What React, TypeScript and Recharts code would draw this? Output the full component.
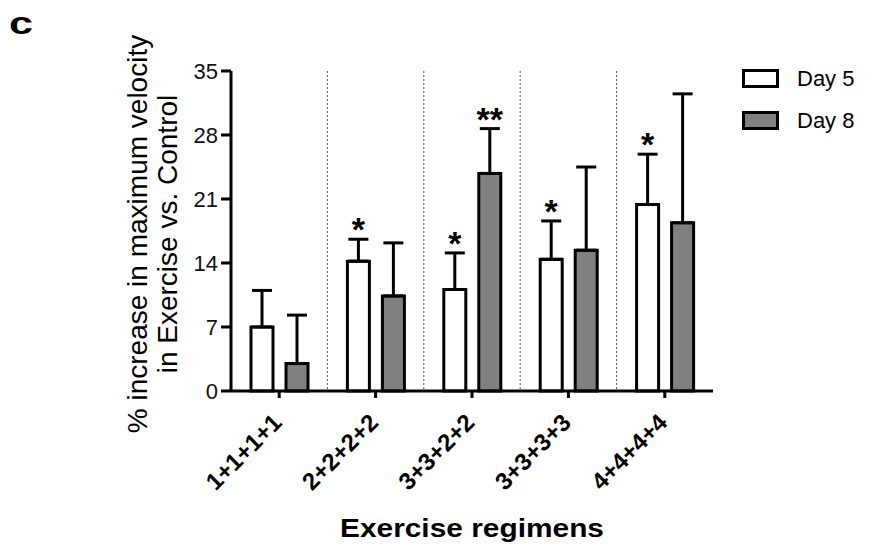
import { BarChart, Bar, XAxis, YAxis, CartesianGrid, ErrorBar, LabelList } from "recharts";

const FONT = '"Liberation Sans", Arial, Helvetica, sans-serif';

// values (% increase, mean and upper SEM)
const categories = ["1+1+1+1", "2+2+2+2", "3+3+2+2", "3+3+3+3", "4+4+4+4"];
const day5 = [7.0, 14.2, 11.1, 14.4, 20.4];
const day5Err = [4.0, 2.4, 4.0, 4.2, 5.5];
const day8 = [3.0, 10.4, 23.8, 15.4, 18.4];
const day8Err = [5.3, 5.8, 4.9, 9.1, 14.1];
const day5Sig = ["", "*", "*", "*", "*"];
const day8Sig = ["", "", "**", "", ""];
const yTicks = [0, 7, 14, 21, 28, 35];

const data = categories.map((name, i) => ({
  name,
  day5: day5[i],
  day8: day8[i],
  day5Err: [0, day5Err[i]],
  day8Err: [0, day8Err[i]],
  day5Sig: day5Sig[i],
  day8Sig: day8Sig[i],
}));

// dotted separators sit on the band edges between the groups
const separatorX = (props: any) => {
  const { xAxis, offset } = props;
  const scale = xAxis?.scale;
  if (typeof scale === "function" && typeof scale.bandwidth === "function") {
    return categories.slice(1).map((c) => scale(c));
  }
  const step = offset.width / categories.length;
  return categories.slice(1).map((_, i) => offset.left + step * (i + 1));
};

const starLabel = (values: number[], errs: number[]) => (props: any) => {
  const { x, y, width, height, value, index } = props;
  if (!value) return null;
  const pxPerUnit = height / values[index];
  const top = y - errs[index] * pxPerUnit;
  return (
    <text
      x={x + width / 2}
      y={top + 2}
      textAnchor="middle"
      fontFamily={FONT}
      fontSize={34}
      fontWeight="bold"
      fill="#000"
    >
      {value}
    </text>
  );
};

const XTick = (props: any) => {
  const { x, y, payload } = props;
  return (
    <text
      x={x + 4}
      y={y + 24}
      transform={`rotate(-45, ${x + 4}, ${y + 24})`}
      textAnchor="end"
      fontFamily={FONT}
      fontSize={24}
      fontWeight="bold"
      fill="#000"
    >
      {payload.value}
    </text>
  );
};

const YLabel = (props: any) => {
  const { viewBox } = props;
  const cy = viewBox.y + viewBox.height / 2 + 3;
  const x1 = 147;
  const x2 = 177;
  return (
    <g fontFamily={FONT} fontSize={28} fill="#000">
      <text x={x1} y={cy} textAnchor="middle" transform={`rotate(-90, ${x1}, ${cy})`}>
        % increase in maximum velocity
      </text>
      <text x={x2} y={cy} textAnchor="middle" transform={`rotate(-90, ${x2}, ${cy})`}>
        in Exercise vs. Control
      </text>
    </g>
  );
};

const XLabel = (props: any) => {
  const { viewBox } = props;
  return (
    <text
      x={viewBox.x + viewBox.width / 2}
      y={537}
      textAnchor="middle"
      fontFamily={FONT}
      fontSize={25}
      fontWeight="bold"
      fill="#000"
      textLength={264}
      lengthAdjust="spacingAndGlyphs"
    >
      Exercise regimens
    </text>
  );
};

const legendItems = [
  { label: "Day 5", fill: "#ffffff" },
  { label: "Day 8", fill: "#808080" },
];

export default function App() {
  return (
    <div style={{ position: "relative", width: 869, height: 546, fontFamily: FONT }}>
      <style>{"body{margin:0}"}</style>
      <div
        style={{
          position: "absolute",
          left: 9,
          top: 7,
          fontSize: 32,
          lineHeight: "32px",
          fontWeight: "bold",
          transform: "scaleX(1.35)",
          transformOrigin: "left top",
        }}
      >
        c
      </div>
      <div style={{ position: "absolute", left: 742, top: 69 }}>
        {legendItems.map((item, i) => (
          <div
            key={item.label}
            style={{ display: "flex", alignItems: "center", height: 19, marginTop: i ? 23 : 0 }}
          >
            <div
              style={{
                boxSizing: "border-box",
                width: 37,
                height: 19,
                border: "3px solid #000",
                background: item.fill,
              }}
            />
            <span style={{ marginLeft: 18, fontSize: 22, lineHeight: "19px", color: "#000" }}>
              {item.label}
            </span>
          </div>
        ))}
      </div>
      <BarChart
        width={869}
        height={546}
        data={data}
        margin={{ top: 71, right: 156, bottom: 55, left: 171 }}
        barSize={22}
        barGap={13}
      >
        <CartesianGrid
          horizontal={false}
          vertical
          stroke="#555"
          strokeDasharray="2 2"
          strokeWidth={1}
          verticalCoordinatesGenerator={separatorX}
        />
        <XAxis
          dataKey="name"
          height={100}
          axisLine={{ stroke: "#000", strokeWidth: 3 }}
          tickLine={{ stroke: "#000", strokeWidth: 3 }}
          tickSize={7}
          tickMargin={2}
          tick={<XTick />}
          interval={0}
          label={<XLabel />}
        />
        <YAxis
          width={60}
          domain={[0, 35]}
          ticks={yTicks}
          axisLine={{ stroke: "#000", strokeWidth: 3 }}
          tickLine={{ stroke: "#000", strokeWidth: 3 }}
          tickSize={10}
          tickMargin={3}
          tick={{ fontFamily: FONT, fontSize: 22, fill: "#111" }}
          label={<YLabel />}
        />
        <Bar dataKey="day5" fill="#ffffff" stroke="#000" strokeWidth={3} isAnimationActive={false}>
          <ErrorBar dataKey="day5Err" width={10} stroke="#000" strokeWidth={3} direction="y" />
          <LabelList dataKey="day5Sig" content={starLabel(day5, day5Err)} />
        </Bar>
        <Bar dataKey="day8" fill="#808080" stroke="#000" strokeWidth={3} isAnimationActive={false}>
          <ErrorBar dataKey="day8Err" width={10} stroke="#000" strokeWidth={3} direction="y" />
          <LabelList dataKey="day8Sig" content={starLabel(day8, day8Err)} />
        </Bar>
      </BarChart>
    </div>
  );
}
